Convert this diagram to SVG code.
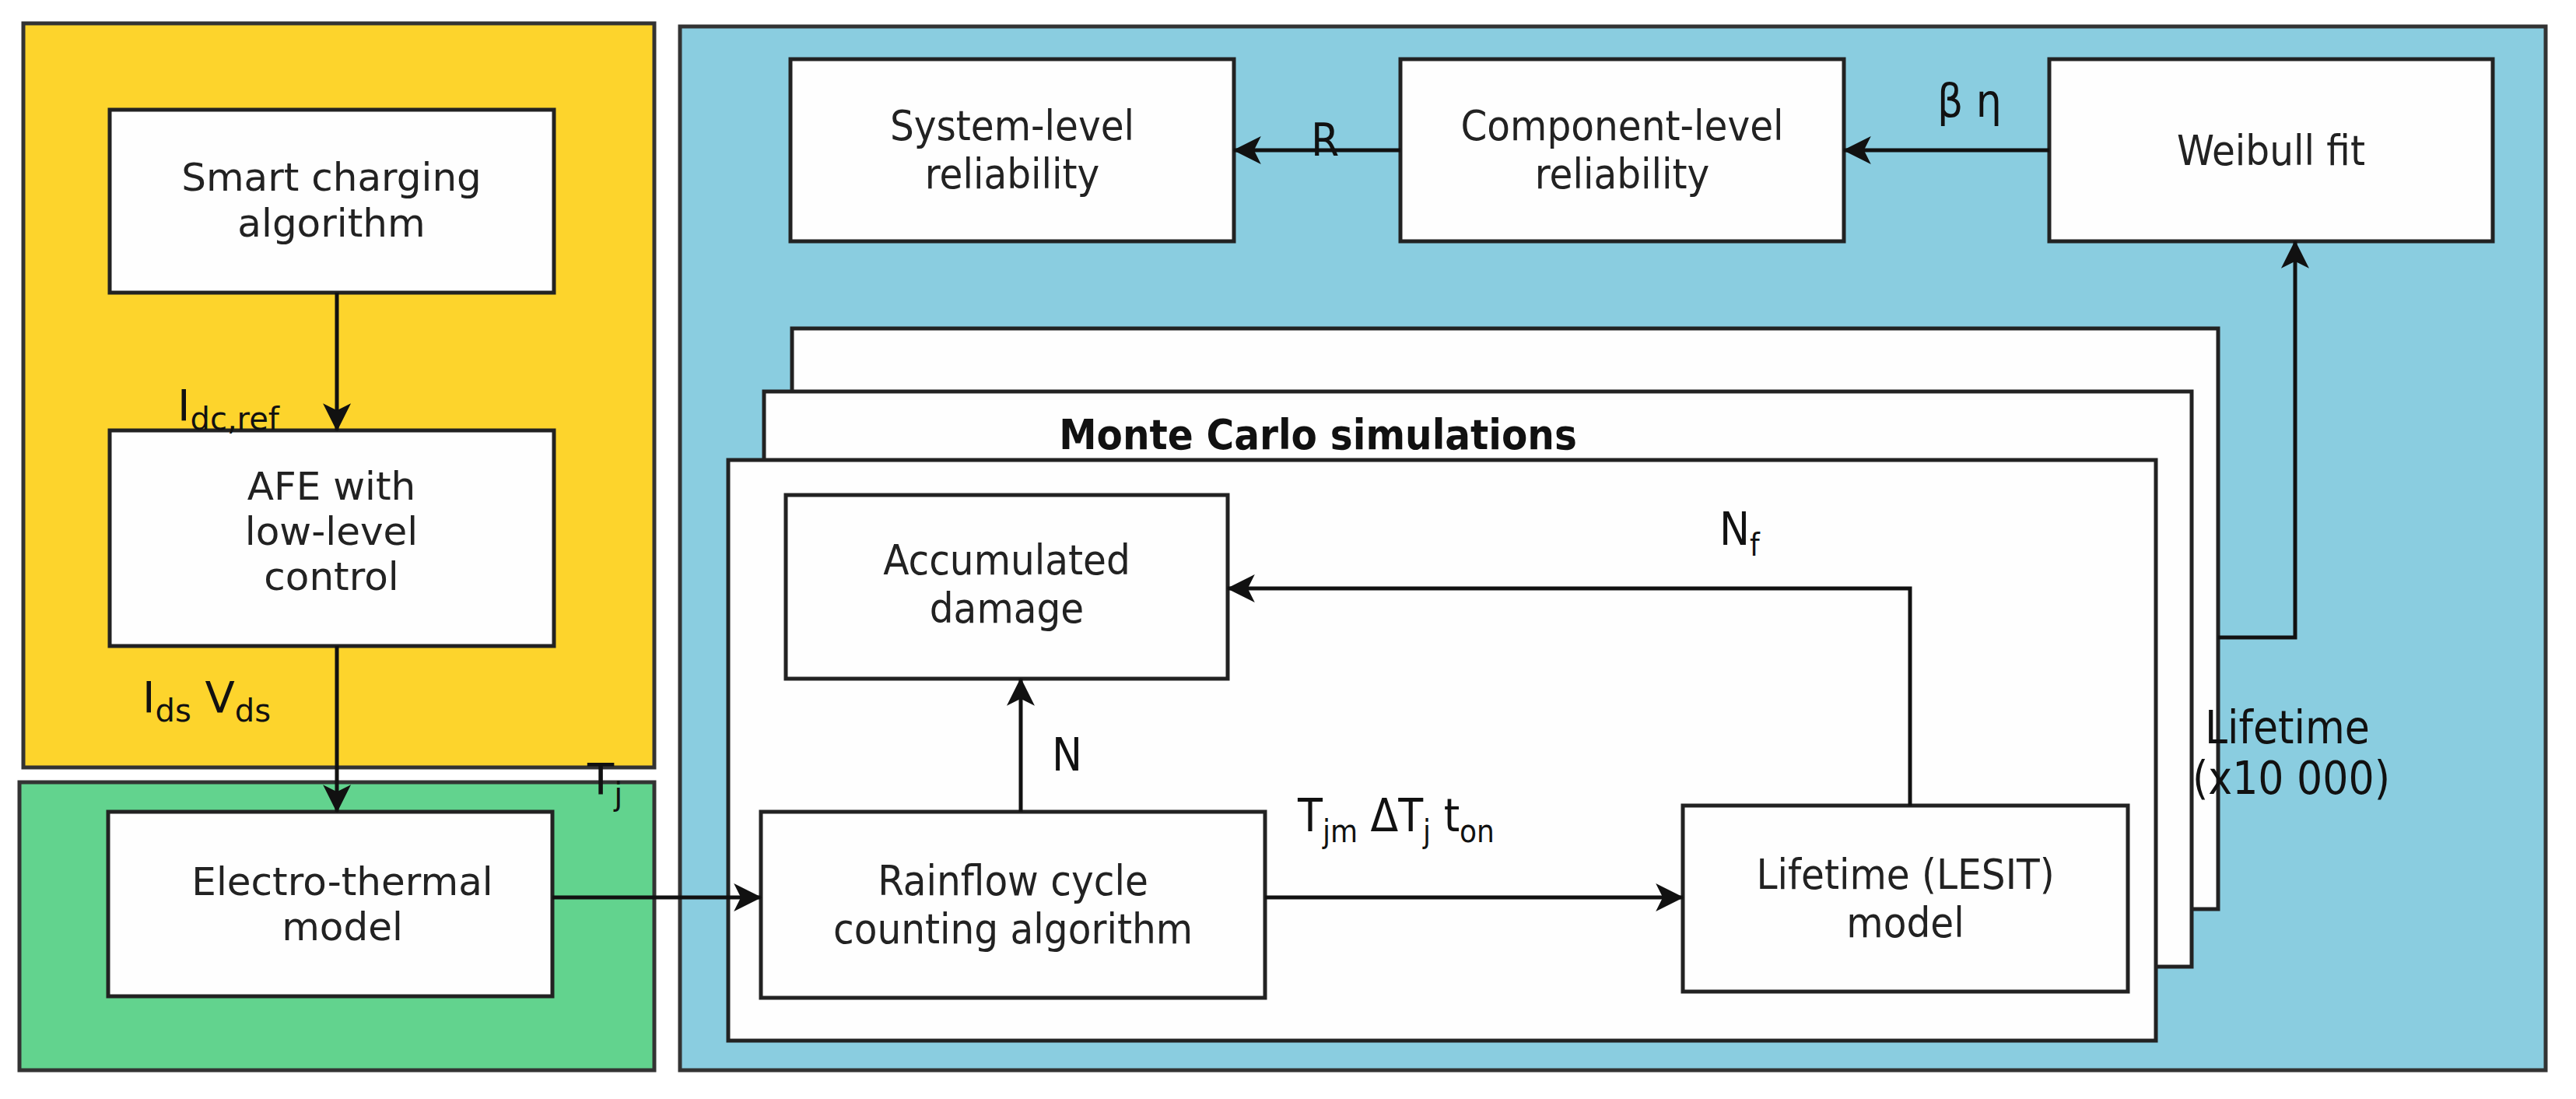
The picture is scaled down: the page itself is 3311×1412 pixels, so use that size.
<svg xmlns="http://www.w3.org/2000/svg" width="3311" height="1412" viewBox="0 0 3311 1412">
<defs>
<style>
.bx{fill:#fefefe;stroke:#222;stroke-width:5}
.t{font-family:"DejaVu Sans",sans-serif;font-size:50px;fill:#222;text-anchor:middle}
.c{font-family:"DejaVu Sans Condensed","DejaVu Sans",sans-serif;font-size:54px;fill:#222;text-anchor:middle}
.ln{fill:none;stroke:#111;stroke-width:5}
</style>
<marker id="a" viewBox="0 0 20 20" refX="19" refY="10" markerWidth="12" markerHeight="12" markerUnits="userSpaceOnUse" orient="auto" overflow="visible">
<path d="M0,0 L20,10 L0,20 L5,10 Z" fill="#111" transform="scale(3) translate(-13,-6.7)"/>
</marker>
</defs>
<rect x="0" y="0" width="3311" height="1412" fill="#fff"/>
<rect x="30" y="30" width="811" height="956" fill="#FDD42C" stroke="#333" stroke-width="5"/>
<rect x="25" y="1005" width="816" height="370" fill="#62D38E" stroke="#333" stroke-width="5"/>
<rect x="874" y="34" width="2398" height="1341" fill="#8ACDE0" stroke="#333" stroke-width="5"/>
<rect class="bx" x="1018" y="422" width="1833" height="746"/>
<rect class="bx" x="982" y="503" width="1835" height="739"/>
<rect class="bx" x="936" y="591" width="1835" height="746"/>
<text x="1694" y="577" style="font-family:'DejaVu Sans Condensed','DejaVu Sans',sans-serif;font-weight:bold;font-size:54px;fill:#111" text-anchor="middle">Monte Carlo simulations</text>
<g id="smart"><rect class="bx" x="141" y="141" width="571" height="235"/><text class="t" x="426" y="245">Smart charging</text><text class="t" x="426" y="304">algorithm</text></g>
<g id="afe"><rect class="bx" x="141" y="553" width="571" height="277"/><text class="t" x="426" y="642">AFE with</text><text class="t" x="426" y="700">low-level</text><text class="t" x="426" y="758">control</text></g>
<g id="et"><rect class="bx" x="139" y="1043" width="571" height="237"/><text class="t" x="440" y="1150">Electro-thermal</text><text class="t" x="440" y="1208">model</text></g>
<g id="sys"><rect class="bx" x="1016" y="76" width="570" height="234"/><text class="c" x="1301" y="180">System-level</text><text class="c" x="1301" y="242">reliability</text></g>
<g id="comp"><rect class="bx" x="1800" y="76" width="570" height="234"/><text class="c" x="2085" y="180">Component-level</text><text class="c" x="2085" y="242">reliability</text></g>
<g id="weib"><rect class="bx" x="2634" y="76" width="570" height="234"/><text class="c" x="2919" y="212">Weibull fit</text></g>
<g id="acc"><rect class="bx" x="1010" y="636" width="568" height="236"/><text class="c" x="1294" y="738">Accumulated</text><text class="c" x="1294" y="800">damage</text></g>
<g id="rain"><rect class="bx" x="978" y="1043" width="648" height="239"/><text class="c" x="1302" y="1150">Rainflow cycle</text><text class="c" x="1302" y="1212">counting algorithm</text></g>
<g id="lesit"><rect class="bx" x="2163" y="1035" width="572" height="239"/><text class="c" x="2449" y="1142">Lifetime (LESIT)</text><text class="c" x="2449" y="1204">model</text></g>
<g id="connectors">
<line class="ln" x1="433" y1="376" x2="433" y2="553" marker-end="url(#a)"/>
<line class="ln" x1="433" y1="830" x2="433" y2="1043" marker-end="url(#a)"/>
<line class="ln" x1="710" y1="1153" x2="978" y2="1153" marker-end="url(#a)"/>
<line class="ln" x1="1800" y1="193" x2="1586" y2="193" marker-end="url(#a)"/>
<line class="ln" x1="2634" y1="193" x2="2370" y2="193" marker-end="url(#a)"/>
<line class="ln" x1="1626" y1="1153" x2="2163" y2="1153" marker-end="url(#a)"/>
<line class="ln" x1="1312" y1="1043" x2="1312" y2="872" marker-end="url(#a)"/>
<polyline class="ln" points="2455,1035 2455,756 1578,756" marker-end="url(#a)"/>
<polyline class="ln" points="2851,819 2950,819 2950,310" marker-end="url(#a)"/>
</g>
<g style="font-family:'DejaVu Sans',sans-serif;font-size:56px;fill:#111">
<text x="228" y="540">I<tspan font-size="40" dy="12">dc,ref</tspan></text>
<text x="183" y="915">I<tspan font-size="40" dy="12">ds</tspan><tspan dy="-12"> V</tspan><tspan font-size="40" dy="12">ds</tspan></text>
<text x="755" y="1020">T<tspan font-size="40" dy="14">j</tspan></text>
</g>
<g style="font-family:'DejaVu Sans Condensed','DejaVu Sans',sans-serif;font-size:58px;fill:#111">
<text x="1685" y="200">R</text>
<text x="2490" y="150">β  η</text>
<text x="2210" y="700">N<tspan font-size="40" dy="14">f</tspan></text>
<text x="1352" y="990">N</text>
<text x="1668" y="1068">T<tspan font-size="40" dy="14">jm</tspan><tspan dy="-14">  ΔT</tspan><tspan font-size="40" dy="14">j</tspan><tspan dy="-14">   t</tspan><tspan font-size="40" dy="14">on</tspan></text>
<text x="2940" y="955" text-anchor="middle">Lifetime</text>
<text x="2945" y="1020" text-anchor="middle">(x10 000)</text>
</g>
</svg>
